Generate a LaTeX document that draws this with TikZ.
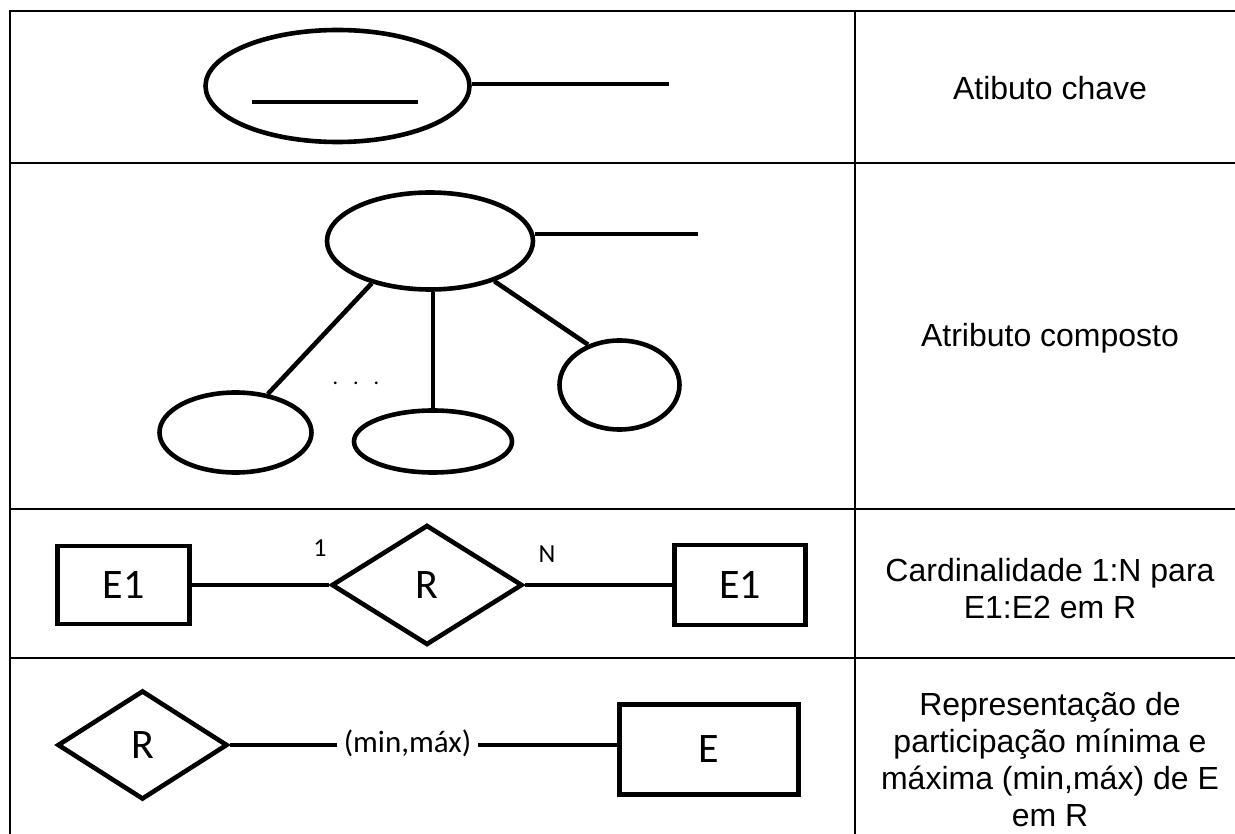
\documentclass[tikz,border=0pt]{standalone}
\usepackage{fontspec}
\setmainfont{Liberation Sans}
\newfontfamily\erfont{Carlito}
\usetikzlibrary{shapes.geometric,calc}

\begin{document}
\begin{tikzpicture}[x=1pt,y=-1pt,
  grid/.style={line width=2.6pt},
  shp/.style={draw,line width=4.6pt,inner sep=0pt},
  attr/.style={shp,ellipse},
  ent/.style={shp,rectangle,font=\erfont\fontsize{42}{42}\selectfont},
  rel/.style={shp,diamond,font=\erfont\fontsize{42}{42}\selectfont},
  link/.style={line width=4.6pt},
  card/.style={font=\erfont\fontsize{26}{26}\selectfont,inner sep=0pt},
  desc/.style={align=center,font=\fontsize{32}{37}\selectfont,inner sep=0pt}]

\useasboundingbox (0,0) rectangle (1235,834);

% table rules
\draw[grid] (9,11) -- (1235,11);
\draw[grid] (10,11) -- (10,834);
\draw[grid] (855,11) -- (855,834);
\draw[grid] (10,163) -- (1235,163);
\draw[grid] (10,509) -- (1235,509);
\draw[grid] (10,658) -- (1235,658);

% --- key attribute ---
\node[attr,minimum width=264,minimum height=112] (key) at (337.5,86) {};
\draw[link] (252,102) -- (418,102);
\coordinate (keyend) at (669,84);
\draw[link] (key.east |- keyend) -- (keyend);

% --- composite attribute ---
\node[attr,minimum width=206,minimum height=97] (comp) at (430,241) {};
\node[attr,minimum width=152,minimum height=80] (subA) at (235.5,432.5) {};
\node[attr,minimum width=158,minimum height=62] (subB) at (433,441.5) {};
\node[attr,minimum width=120,minimum height=89] (subC) at (619.5,385) {};
\coordinate (compend) at (698,234);
\draw[link] (comp.east |- compend) -- (compend);
\draw[link] (comp.216) -- (subA.50);
\draw[link] (subB.north) -- (subB.north |- comp.south);
\draw[link] (comp.328) -- (subC.128);
\node[font=\erfont\fontsize{22}{22}\selectfont,inner sep=0pt] (more) at (356,383)
  {.\hspace{15pt}.\hspace{15pt}.};

% --- cardinality 1:N ---
\node[ent,minimum width=132,minimum height=78] (eA) at (123.5,585) {E1};
\node[rel,minimum width=191,minimum height=120] (rA) at (427,585) {R};
\node[ent,minimum width=131,minimum height=80] (eB) at (740,585) {E1};
\draw[link] (eA.east) -- (rA.west);
\draw[link] (rA.east) -- (eB.west);
\node[card] (one) at (320,548) {1};
\node[card] (many) at (547,554) {N};

% --- participation (min,max) ---
\node[rel,minimum width=170,minimum height=109] (rB) at (142.5,745) {R};
\node[ent,minimum width=179,minimum height=90] (eC) at (709,749.5) {E};
\node[font=\erfont\fontsize{31}{31}\selectfont,inner sep=7pt] (mm) at (407.5,743) {(min,máx)};
\draw[link] (rB.east) -- (rB.east -| mm.west);
\draw[link] (mm.east |- rB.east) -- (rB.east -| eC.west);

% --- descriptions ---
\node[desc] (dA) at (1050,88) {Atibuto chave};
\node[desc] (dB) at (1050,338) {Atributo composto};
\node[desc] (dC) at (1050,589) {Cardinalidade 1:N para\\E1:E2 em R};
\node[desc] (dD) at (1050,760) {Representação de\\participação mínima e\\máxima (min,máx) de E\\em R};
\end{tikzpicture}
\end{document}
